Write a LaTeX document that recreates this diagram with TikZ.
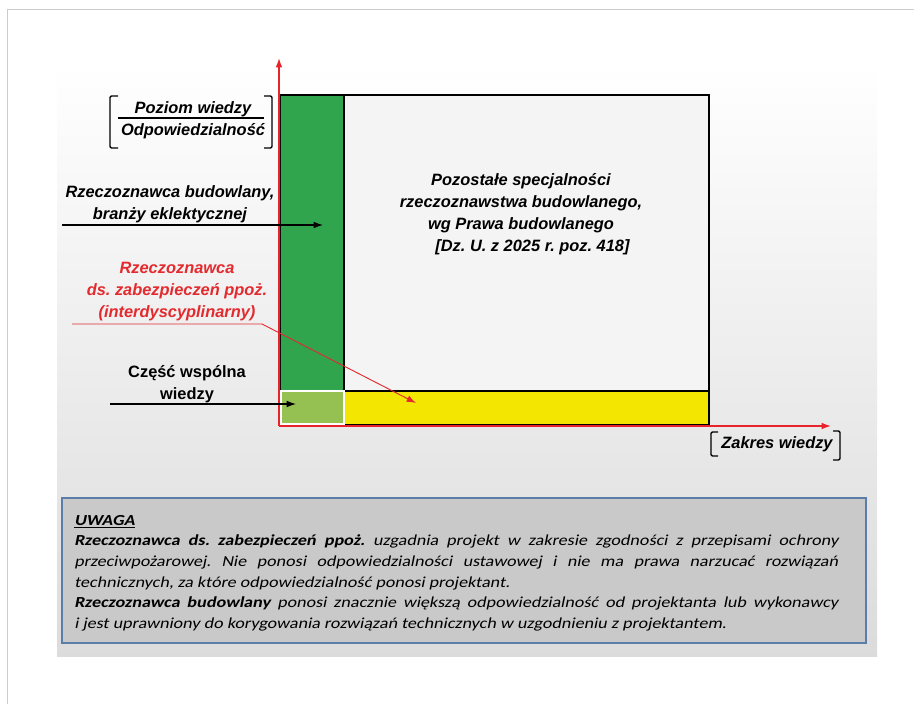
\documentclass[tikz,border=0pt]{standalone}
\usepackage{fontspec}
\setmainfont{Liberation Sans}
\newfontfamily\notefont{Carlito}[FakeStretch=1.18, AutoFakeSlant=0.2, BoldFeatures={FakeSlant=0.2}]
\usepackage{xcolor}
\usetikzlibrary{arrows.meta}
\frenchspacing
\newcommand\notebf[1]{{\upshape\bfseries #1}}

\definecolor{axisred}{HTML}{E62429}
\definecolor{labelred}{HTML}{E32A2E}
\definecolor{fieldgreen}{HTML}{30A54E}
\definecolor{sharedgreen}{HTML}{95C152}
\definecolor{fieldyellow}{HTML}{F3E600}
\definecolor{fieldgray}{HTML}{F4F4F4}
\definecolor{notegray}{HTML}{C9C9C9}
\definecolor{noteblue}{HTML}{5B7DAA}

\begin{document}
\begin{tikzpicture}[x=0.75pt,y=-0.75pt,
  lbl/.style={font=\fontsize{12.3}{16.5}\selectfont\bfseries\itshape, align=center, inner sep=0pt},
  brk/.style={line width=1pt, rounded corners=1pt},
  pointer/.style={-{Latex[length=7pt,width=5pt]}, line width=0.8pt}]
\useasboundingbox (0,0) rectangle (914,704);

% frame and panel
\draw[black!20] (7,704) -- (7,9) -- (914,9);
\shade[top color=white, bottom color=black!14] (57,62) rectangle (877,656);

% fields
\draw[fill=fieldgray, line width=1pt] (344,95) rectangle (709,391);
\draw[fill=fieldyellow, line width=1.3pt] (344,391) rectangle (709,425);
\draw[fill=fieldgreen, line width=1.3pt] (280,95) rectangle (344,391);
\draw[line width=2pt] (280,95) -- (344,95);
\draw[black, line width=1.6pt] (281,426) -- (345,426);
\draw[fill=sharedgreen, draw=white, line width=1.2pt] (281,391) rectangle (344,424);

% axes
\coordinate (O) at (279,426);
\coordinate (Ytop) at (279,58);
\coordinate (Xend) at (831,426);
\draw[axisred, line width=1pt, -{Latex[length=7pt,width=5pt]}] (O) -- (Ytop);
\draw[axisred, line width=1pt, -{Latex[length=7pt,width=5pt]}] (O) -- (Xend);

% axis labels
\node[lbl, anchor=base] (poziom) at (193,113) {Poziom wiedzy};
\node[lbl, anchor=base] (odp) at (193,135) {Odpowiedzialność};
\draw[line width=1pt] (118,118) -- (264,118);
\draw[brk] (118,96) -- (110,96) -- (110,148) -- (118,148);
\draw[brk] (264,96) -- (272,96) -- (272,148) -- (264,148);

\node[lbl, anchor=base] (zakres) at (777,448) {Zakres wiedzy};
\draw[brk] (718,432) -- (711,432) -- (711,456) -- (718,456);
\draw[brk] (833,431) -- (840,431) -- (840,460) -- (833,460);

% field description
\node[lbl] (pozostale) at (521,214) {Pozostałe specjalności\\rzeczoznawstwa budowlanego,\\wg Prawa budowlanego\hspace*{0.8em}\\\hspace*{1.4em}[Dz. U. z 2025 r. poz. 418]};

% left labels
\node[lbl] (budowlany) at (170,204) {Rzeczoznawca budowlany,\\branży eklektycznej};
\coordinate (budStart) at (62,225);
\coordinate (budEnd) at (323,225);
\draw[pointer] (budStart) -- (budEnd);

\node[lbl, text=labelred] (ppoz) at (177,292) {Rzeczoznawca\\ds. zabezpieczeń ppoż.\\(interdyscyplinarny)};
\coordinate (ppozStart) at (72,324);
\coordinate (ppozBend) at (262,324);
\coordinate (ppozEnd) at (416,403);
\draw[labelred, pointer, line width=0.7pt] (ppozStart) -- (ppozBend) -- (ppozEnd);

\node[lbl, font=\fontsize{12.3}{16.5}\selectfont\bfseries] (wspolna) at (187,384) {Część wspólna\\wiedzy};
\coordinate (wspStart) at (110,404);
\coordinate (wspEnd) at (296,404);
\draw[pointer] (wspStart) -- (wspEnd);

% note
\draw[fill=notegray, draw=noteblue, line width=2pt] (62,498) rectangle (866,643);
\node[anchor=north west, inner sep=0pt, text width=573pt, align=justify,
  font=\notefont\fontsize{11.5}{15.5}\selectfont\itshape] (uwaga) at (74,515)
  {\underline{\notebf{UWAGA}}\newline
   \notebf{Rzeczoznawca ds. zabezpieczeń ppoż.} uzgadnia projekt w zakresie zgodności z przepisami ochrony\linebreak
   przeciwpożarowej. Nie ponosi odpowiedzialności ustawowej i nie ma prawa narzucać rozwiązań\linebreak
   technicznych, za które odpowiedzialność ponosi projektant.\newline
   \notebf{Rzeczoznawca budowlany} ponosi znacznie większą odpowiedzialność od projektanta lub wykonawcy\linebreak
   i jest uprawniony do korygowania rozwiązań technicznych w uzgodnieniu z projektantem.};
\end{tikzpicture}
\end{document}
